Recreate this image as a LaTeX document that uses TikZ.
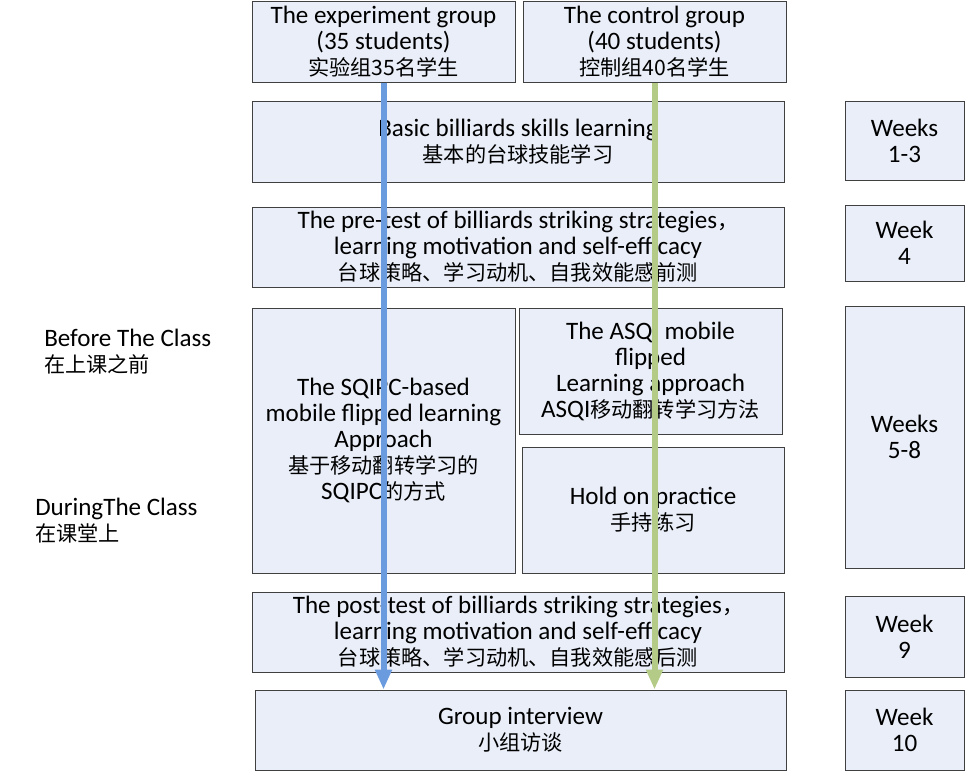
\documentclass[tikz,border=0pt]{standalone}
\usepackage{fontspec}
\setmainfont{Carlito}
\newfontfamily\cjk[Scale=0.845]{Noto Sans CJK SC}
\usetikzlibrary{arrows.meta}
\definecolor{boxfill}{RGB}{233,238,248}
\definecolor{boxline}{RGB}{64,64,64}
\definecolor{expblue}{RGB}{106,155,222}
\definecolor{ctrlgreen}{RGB}{179,203,135}
\begin{document}
\begin{tikzpicture}[x=0.75pt, y=-0.75pt,
  font=\fontsize{18.8}{19.5}\selectfont,
  box/.style={draw=boxline, line width=0.75pt, fill=boxfill, align=center, inner sep=0pt},
  flow/.style={line width=4.5pt, -{Triangle[width=12pt,length=15pt]}}]
\useasboundingbox (0,0) rectangle (969,774);
% groups
\node[box, minimum width=197.25pt, minimum height=60pt] (exp) at (383.5,42) {The experiment group\\(35 students)\\{\cjk 实验组35名学生}};
\node[box, minimum width=197.25pt, minimum height=60pt] (ctrl) at (654.5,42) {The control group\\(40 students)\\{\cjk 控制组40名学生}};
% stages
\node[box, minimum width=399pt, minimum height=60.75pt] (basic) at (518,141.5) {Basic billiards skills learning\\{\cjk 基本的台球技能学习}};
\node[box, minimum width=399pt, minimum height=60pt] (pre) at (518,247) {The pre-test of billiards striking strategies{\cjk ，}\\learning motivation and self-efficacy\\{\cjk 台球策略、学习动机、自我效能感前测}};
\node[box, minimum width=197.25pt, minimum height=198.75pt] (sqipc) at (383.5,440.5) {The SQIPC-based\\mobile flipped learning\\Approach\\{\cjk 基于移动翻转学习的}\\SQIPC{\cjk 的方式}};
\node[box, minimum width=197.25pt, minimum height=94.5pt] (asqi) at (650.5,371) {The ASQI mobile\\flipped\\Learning approach\\ASQI{\cjk 移动翻转学习方法}};
\node[box, minimum width=196.5pt, minimum height=94.5pt] (hold) at (653,510) {Hold on practice\\{\cjk 手持练习}};
\node[box, minimum width=399pt, minimum height=60pt] (post) at (518,632) {The post-test of billiards striking strategies{\cjk ，}\\learning motivation and self-efficacy\\{\cjk 台球策略、学习动机、自我效能感后测}};
\node[box, minimum width=398.25pt, minimum height=60pt] (interview) at (520.5,730) {Group interview\\{\cjk 小组访谈}};
% weeks
\node[box, minimum width=89.25pt, minimum height=59.25pt] (wk1) at (904.5,140.5) {Weeks\\1-3};
\node[box, minimum width=89.25pt, minimum height=57pt] (wk4) at (904.5,243) {Week\\4};
\node[box, minimum width=89.25pt, minimum height=196.5pt] (wk5) at (904.5,437) {Weeks\\5-8};
\node[box, minimum width=89.25pt, minimum height=60.75pt] (wk9) at (904.5,636.5) {Week\\9};
\node[box, minimum width=89.25pt, minimum height=60pt] (wk10) at (904.5,730) {Week\\10};
% phases
\node[anchor=west, align=left, inner sep=0pt] (before) at (44,352) {Before The Class\\{\cjk 在上课之前}};
\node[anchor=west, align=left, inner sep=0pt] (during) at (35,521) {DuringThe Class\\{\cjk 在课堂上}};
% group paths
\draw[flow, expblue] (exp.south) -- (exp.south |- interview.north);
\draw[flow, ctrlgreen] (ctrl.south) -- (ctrl.south |- interview.north);
\end{tikzpicture}
\end{document}
